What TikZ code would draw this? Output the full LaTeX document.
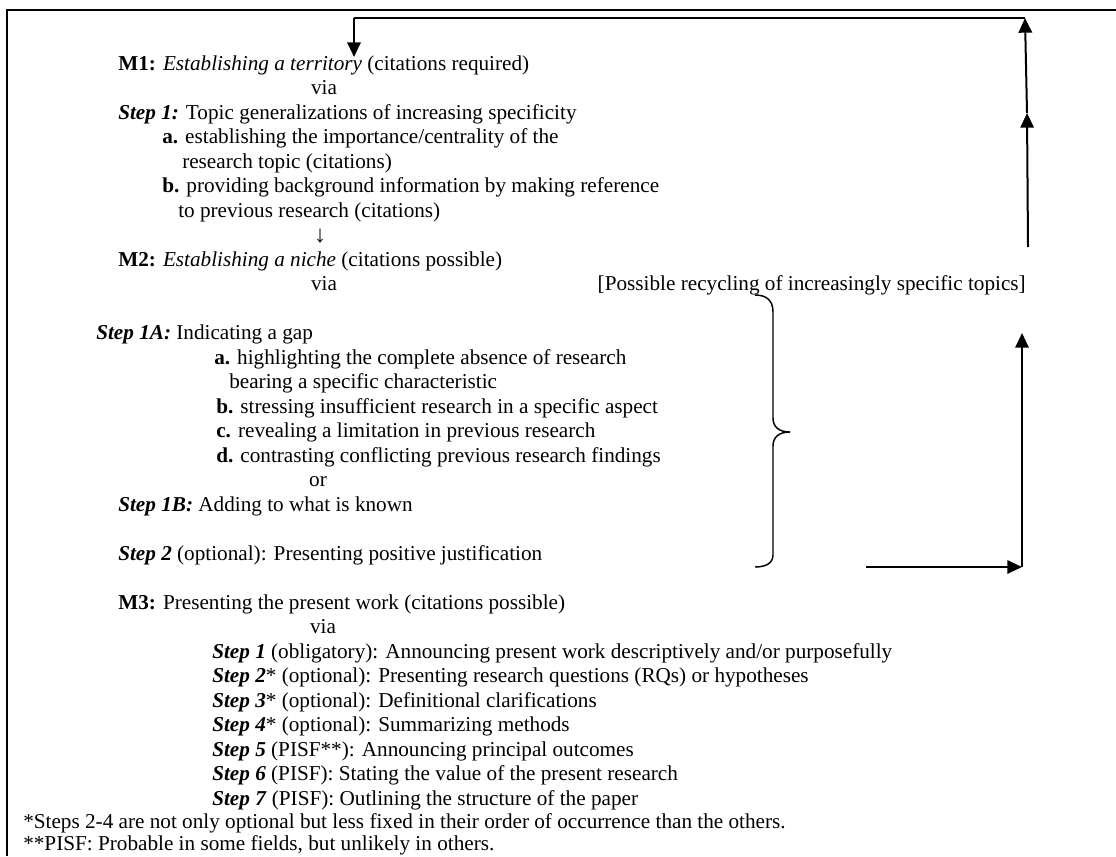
\documentclass[tikz,border=0pt]{standalone}
\usepackage{fontspec}
\setmainfont{Liberation Serif}
\usetikzlibrary{positioning,arrows.meta}

\begin{document}
\begin{tikzpicture}[x=0.75pt,y=-0.75pt,
    txt/.style={anchor=base west, inner sep=0pt, font=\fontsize{15.9}{18.3}\selectfont},
    mid/.style={txt, anchor=base},
    arr/.style={line width=1.5pt, -{Triangle[length=11pt,width=10pt]}}]
    \useasboundingbox (0,0) rectangle (1116,856);
    % frame
    \draw[line width=1.5pt] (7,856) -- (7,10) -- (1116,10);
    % move 1
    \node[txt] (m1) at (118,70) {\textbf{M1:} \textit{Establishing a territory} (citations required)};
    \node[mid] (via1) at (324,94.5) {via};
    \node[txt] (m1s1) at (118,119) {\textbf{\textit{Step 1:}} Topic generalizations of increasing specificity};
    \node[txt] (m1a) at (162,143.5) {\textbf{a.} establishing the importance/centrality of the};
    \node[txt] (m1a2) at (182,168) {research topic (citations)};
    \node[txt] (m1b) at (162,192.5) {\textbf{b.} providing background information by making reference};
    \node[txt] (m1b2) at (178,217) {to previous research (citations)};
    \node[mid, font=\fontsize{18}{20}\selectfont] (down) at (320,242) {↓};
    % move 2
    \node[txt] (m2) at (118,266) {\textbf{M2:} \textit{Establishing a niche} (citations possible)};
    \node[mid] (via2) at (324,290.5) {via};
    \node[txt, anchor=base east] (recyc) at (1026,290.5) {[Possible recycling of increasingly specific topics]};
    \node[txt] (m2s1a) at (96,339.5) {\textbf{\textit{Step 1A:}} Indicating a gap};
    \node[txt] (m2a) at (214,364) {\textbf{a.} highlighting the complete absence of research};
    \node[txt] (m2a2) at (229,388.5) {bearing a specific characteristic};
    \node[txt] (m2b) at (216,413) {\textbf{b.} stressing insufficient research in a specific aspect};
    \node[txt] (m2c) at (216,437.5) {\textbf{c.} revealing a limitation in previous research};
    \node[txt] (m2d) at (216,462) {\textbf{d.} contrasting conflicting previous research findings};
    \node[mid] (or) at (318,486.5) {or};
    \node[txt] (m2s1b) at (118,511) {\textbf{\textit{Step 1B:}} Adding to what is known};
    \node[txt] (m2s2) at (118,560) {\textbf{\textit{Step 2}} (optional): Presenting positive justification};
    % move 3
    \node[txt] (m3) at (118,609) {\textbf{M3:} Presenting the present work (citations possible)};
    \node[mid] (via3) at (323,633.5) {via};
    \node[txt] (m3s1) at (212,658) {\textbf{\textit{Step 1}} (obligatory): Announcing present work descriptively and/or purposefully};
    \node[txt] (m3s2) at (212,682.5) {\textbf{\textit{Step 2}}* (optional): Presenting research questions (RQs) or hypotheses};
    \node[txt] (m3s3) at (212,707) {\textbf{\textit{Step 3}}* (optional): Definitional clarifications};
    \node[txt] (m3s4) at (212,731.5) {\textbf{\textit{Step 4}}* (optional): Summarizing methods};
    \node[txt] (m3s5) at (212,756) {\textbf{\textit{Step 5}} (PISF**): Announcing principal outcomes};
    \node[txt] (m3s6) at (212,780.5) {\textbf{\textit{Step 6}} (PISF): Stating the value of the present research};
    \node[txt] (m3s7) at (212,805) {\textbf{\textit{Step 7}} (PISF): Outlining the structure of the paper};
    \node[txt] (note1) at (23,828) {*Steps 2-4 are not only optional but less fixed in their order of occurrence than the others.};
    \node[txt] (note2) at (23,850) {**PISF: Probable in some fields, but unlikely in others.};
    % recycling loop
    \coordinate (loopA) at (1028,247);
    \coordinate (loopB) at (1027,113);
    \coordinate (loopC) at (1025,18);
    \coordinate (loopD) at (354,18);
    \coordinate (m1in) at (354,57);
    \draw[arr] (loopA) -- (loopB);
    \draw[arr] (loopB) -- (loopC);
    \draw[line width=1pt] (loopC) -- (loopD);
    \draw[arr] (loopD) -- (m1in);
    \coordinate (recA) at (866,567);
    \coordinate (recB) at (1022,567);
    \coordinate (recC) at (1022,333);
    \draw[arr] (recA) -- (recB);
    \draw[arr] (recB) -- (recC);
    % brace
    \draw[line width=1.1pt] (755,295) .. controls (766,295) and (773,300) .. (773,312) -- (773,418)
        .. controls (773,427) and (779,432) .. (790,432) .. controls (779,432) and (773,437) .. (773,446)
        -- (773,555) .. controls (773,563) and (766,567) .. (755,567);
\end{tikzpicture}
\end{document}
